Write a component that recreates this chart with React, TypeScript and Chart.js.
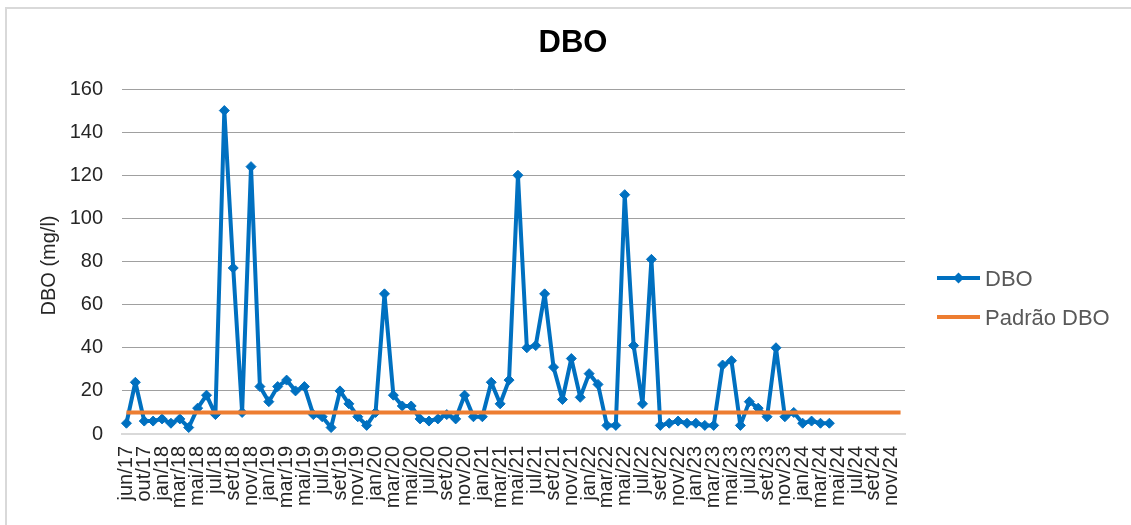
import { useEffect, useRef } from 'react';
import { Chart, registerables } from 'chart.js';

Chart.register(...registerables);

// Sampling months (two-monthly at the start, monthly from jan/18 on)
const categories = [
  'jun/17', 'ago/17', 'out/17', 'dez/17',
  'jan/18', 'fev/18', 'mar/18', 'abr/18', 'mai/18', 'jun/18', 'jul/18', 'ago/18', 'set/18', 'out/18', 'nov/18', 'dez/18',
  'jan/19', 'fev/19', 'mar/19', 'abr/19', 'mai/19', 'jun/19', 'jul/19', 'ago/19', 'set/19', 'out/19', 'nov/19', 'dez/19',
  'jan/20', 'fev/20', 'mar/20', 'abr/20', 'mai/20', 'jun/20', 'jul/20', 'ago/20', 'set/20', 'out/20', 'nov/20', 'dez/20',
  'jan/21', 'fev/21', 'mar/21', 'abr/21', 'mai/21', 'jun/21', 'jul/21', 'ago/21', 'set/21', 'out/21', 'nov/21', 'dez/21',
  'jan/22', 'fev/22', 'mar/22', 'abr/22', 'mai/22', 'jun/22', 'jul/22', 'ago/22', 'set/22', 'out/22', 'nov/22', 'dez/22',
  'jan/23', 'fev/23', 'mar/23', 'abr/23', 'mai/23', 'jun/23', 'jul/23', 'ago/23', 'set/23', 'out/23', 'nov/23', 'dez/23',
  'jan/24', 'fev/24', 'mar/24', 'abr/24', 'mai/24', 'jun/24', 'jul/24', 'ago/24', 'set/24', 'out/24', 'nov/24', 'dez/24',
];

// Measured DBO (mg/l), one value per sampling month
const dboValues = [
  5, 24, 6, 6,
  7, 5, 7, 3, 12, 18, 9, 150, 77, 10, 124, 22,
  15, 22, 25, 20, 22, 9, 8, 3, 20, 14, 8, 4,
  10, 65, 18, 13, 13, 7, 6, 7, 9, 7, 18, 8,
  8, 24, 14, 25, 120, 40, 41, 65, 31, 16, 35, 17,
  28, 23, 4, 4, 111, 41, 14, 81, 4, 5, 6, 5,
  5, 4, 4, 32, 34, 4, 15, 12, 8, 40, 8, 10,
  5, 6, 5, 5,
];

// Legal limit for DBO (mg/l)
const padraoLimite = 10;
const padraoValues = categories.map(() => padraoLimite);

const yTickValues = [0, 20, 40, 60, 80, 100, 120, 140, 160];

const seriesNames = ['DBO', 'Padrão DBO'];
const seriesColors = ['#0070C0', '#ED7D31'];

const FONT = '"Liberation Sans", Arial, Helvetica, sans-serif';

// Title, rotated y-axis caption and the legend on the right
const decorPlugin = {
  id: 'decor',
  afterDraw(chart: any) {
    const ctx = chart.ctx as CanvasRenderingContext2D;
    const area = chart.chartArea;
    ctx.save();

    ctx.fillStyle = '#000000';
    ctx.font = `bold 31px ${FONT}`;
    ctx.textAlign = 'center';
    ctx.textBaseline = 'alphabetic';
    ctx.fillText('DBO', 573, 52);

    ctx.save();
    ctx.translate(55, (area.top + area.bottom) / 2 + 4);
    ctx.rotate(-Math.PI / 2);
    ctx.font = `20px ${FONT}`;
    ctx.fillStyle = '#262626';
    ctx.textAlign = 'center';
    ctx.textBaseline = 'alphabetic';
    ctx.fillText('DBO (mg/l)', 0, 0);
    ctx.restore();

    const rows = [278, 317];
    seriesNames.forEach((name, i) => {
      const y = rows[i];
      ctx.strokeStyle = seriesColors[i];
      ctx.lineWidth = 4;
      ctx.lineCap = 'butt';
      ctx.beginPath();
      ctx.moveTo(937, y);
      ctx.lineTo(980, y);
      ctx.stroke();
      if (i === 0) {
        const cx = 958.5;
        const r = 5.5;
        ctx.fillStyle = seriesColors[i];
        ctx.beginPath();
        ctx.moveTo(cx - r, y);
        ctx.lineTo(cx, y - r);
        ctx.lineTo(cx + r, y);
        ctx.lineTo(cx, y + r);
        ctx.closePath();
        ctx.fill();
      }
      ctx.fillStyle = '#595959';
      ctx.font = `22px ${FONT}`;
      ctx.textAlign = 'left';
      ctx.textBaseline = 'alphabetic';
      ctx.fillText(name, 985, y + 7.5);
    });

    ctx.restore();
  },
};

export default function App() {
  const canvasRef = useRef<HTMLCanvasElement>(null);

  useEffect(() => {
    const canvas = canvasRef.current;
    if (!canvas) return;
    const chart = new Chart(canvas, {
      type: 'line',
      data: {
        labels: categories,
        datasets: [
          {
            label: seriesNames[1],
            data: padraoValues,
            borderColor: seriesColors[1],
            backgroundColor: seriesColors[1],
            borderWidth: 4,
            pointRadius: 0,
            tension: 0,
            borderCapStyle: 'butt',
            order: 0,
          },
          {
            label: seriesNames[0],
            data: dboValues,
            borderColor: seriesColors[0],
            backgroundColor: seriesColors[0],
            borderWidth: 4,
            borderJoinStyle: 'round',
            pointStyle: 'rectRot',
            pointRadius: 5,
            pointBorderWidth: 1,
            pointBackgroundColor: seriesColors[0],
            pointBorderColor: seriesColors[0],
            tension: 0,
            order: 1,
          },
        ],
      },
      options: {
        responsive: false,
        animation: false,
        devicePixelRatio: 1,
        layout: { padding: { top: 89, left: 0, right: 226, bottom: 0 } },
        plugins: {
          legend: { display: false },
          title: { display: false },
          tooltip: { enabled: false },
        },
        scales: {
          x: {
            type: 'category',
            offset: true,
            grid: { display: false, drawTicks: false },
            border: { display: true, color: '#d9d9d9', width: 2 },
            ticks: {
              autoSkip: false,
              minRotation: 90,
              maxRotation: 90,
              padding: 12,
              color: '#262626',
              font: { family: FONT, size: 20 },
              callback: (_v: any, i: number) => (i % 2 === 0 ? categories[i] : ''),
            },
            afterFit: (scale: any) => {
              scale.height = 91;
            },
          },
          y: {
            min: yTickValues[0],
            max: yTickValues[yTickValues.length - 1],
            afterBuildTicks: (scale: any) => {
              scale.ticks = yTickValues.map((v) => ({ value: v }));
            },
            grid: {
              drawTicks: false,
              color: (c: any) => (c.tick && c.tick.value === 0 ? 'rgba(0,0,0,0)' : '#a0a0a0'),
              lineWidth: 1,
            },
            border: { display: false },
            ticks: {
              padding: 19,
              color: '#262626',
              font: { family: FONT, size: 20 },
            },
            afterFit: (scale: any) => {
              scale.width = 122;
            },
          },
        },
      },
      plugins: [decorPlugin],
    });
    return () => chart.destroy();
  }, []);

  return (
    <div
      style={{
        position: 'fixed',
        left: 0,
        top: 0,
        width: 1131,
        height: 525,
        overflow: 'hidden',
        background: '#ffffff',
      }}
    >
      <div
        style={{
          position: 'absolute',
          left: 5,
          top: 7,
          width: 1200,
          height: 600,
          borderLeft: '2px solid #d9d9d9',
          borderTop: '2px solid #d9d9d9',
        }}
      />
      <canvas
        ref={canvasRef}
        width={1131}
        height={525}
        style={{ position: 'absolute', left: 0, top: 0, width: 1131, height: 525 }}
      />
    </div>
  );
}
